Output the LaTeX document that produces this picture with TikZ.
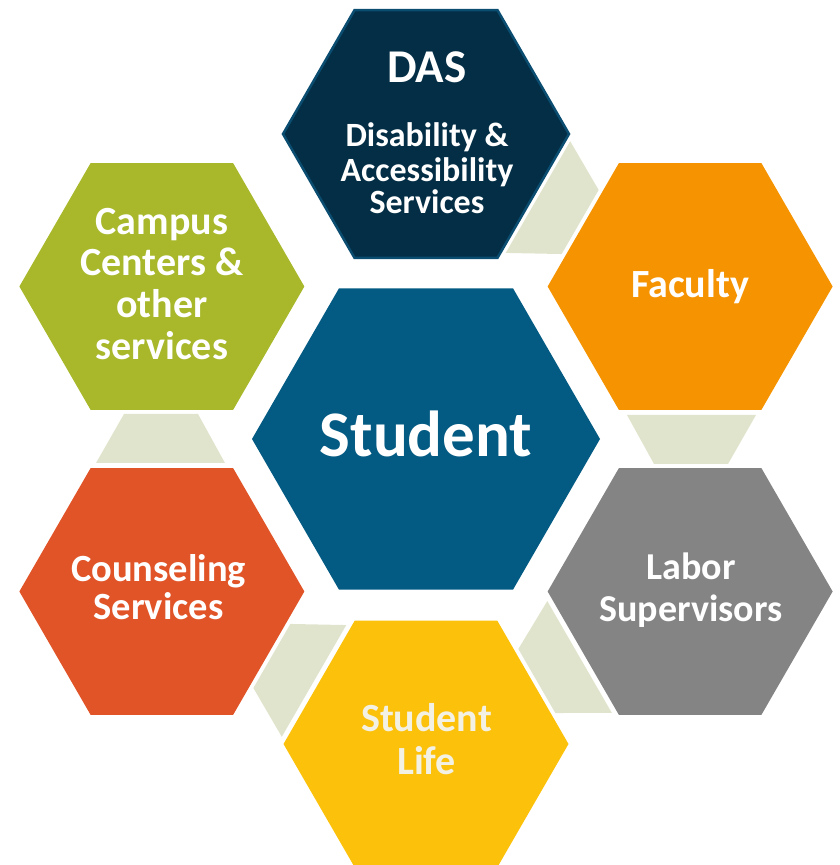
\documentclass[tikz,border=0pt]{standalone}
\usepackage{fontspec}
\setmainfont{Carlito}
\definecolor{dasfill}{HTML}{032E45}
\definecolor{dasline}{HTML}{0B4D70}
\definecolor{studfill}{HTML}{035A82}
\definecolor{facfill}{HTML}{F59300}
\definecolor{labfill}{HTML}{848484}
\definecolor{lifefill}{HTML}{FCC10A}
\definecolor{counfill}{HTML}{E05428}
\definecolor{campfill}{HTML}{A8B82A}
\definecolor{linkfill}{HTML}{E0E4CD}
\definecolor{lifetext}{HTML}{F3F0E4}
\begin{document}
\begin{tikzpicture}[x=1pt,y=1pt,
  lbl/.style={anchor=base, inner sep=0pt, outer sep=0pt, text=white,
    font=\bfseries\fontsize{#1}{#1}\selectfont},
  link/.style={fill=linkfill, draw=none}]
\useasboundingbox (0,0) rectangle (840,865);
\coordinate (c) at (426,426);
\path (c) ++(90:305) coordinate (das);
\path (c) ++(30:305) coordinate (fac);
\path (c) ++(-30:305) coordinate (lab);
\path (c) ++(-90:305) coordinate (life);
\path (c) ++(-150:305) coordinate (coun);
\path (c) ++(150:305) coordinate (camp);

% connectors
\fill[link, shift={(c)}, rotate=60]  (330,24) -- (302,-25) -- (228,-25) -- (201,24) -- cycle;
\fill[link, shift={(c)}, rotate=0]   (330,24) -- (302,-25) -- (228,-25) -- (201,24) -- cycle;
\fill[link, shift={(c)}, rotate=-60] (330,24) -- (302,-25) -- (228,-25) -- (201,24) -- cycle;
\fill[link, shift={(c)}, rotate=-120](330,24) -- (302,-25) -- (228,-25) -- (201,24) -- cycle;
\fill[link, shift={(c)}, rotate=180] (330,24) -- (302,-25) -- (228,-25) -- (201,24) -- cycle;

% hexagons
\fill[studfill, shift={(c)}] (0:174) -- (60:174) -- (120:174) -- (180:174) -- (240:174) -- (300:174) -- cycle;
\filldraw[fill=dasfill, draw=dasline, line width=2.5pt, line join=miter, shift={(das)}] (0:143) -- (60:143) -- (120:143) -- (180:143) -- (240:143) -- (300:143) -- cycle;
\fill[facfill, shift={(fac)}] (0:142.5) -- (60:142.5) -- (120:142.5) -- (180:142.5) -- (240:142.5) -- (300:142.5) -- cycle;
\fill[labfill, shift={(lab)}] (0:142.5) -- (60:142.5) -- (120:142.5) -- (180:142.5) -- (240:142.5) -- (300:142.5) -- cycle;
\fill[lifefill, shift={(life)}] (0:142.5) -- (60:142.5) -- (120:142.5) -- (180:142.5) -- (240:142.5) -- (300:142.5) -- cycle;
\fill[counfill, shift={(coun)}] (0:142.5) -- (60:142.5) -- (120:142.5) -- (180:142.5) -- (240:142.5) -- (300:142.5) -- cycle;
\fill[campfill, shift={(camp)}] (0:142.5) -- (60:142.5) -- (120:142.5) -- (180:142.5) -- (240:142.5) -- (300:142.5) -- cycle;

% labels
\node[lbl=47] (dasA) at (427,782) {DAS};
\node[lbl=34] (dasB) at (427,718) {Disability \&};
\node[lbl=34] (dasC) at (427,683) {Accessibility};
\node[lbl=34] (dasD) at (427,651) {Services};
\node[lbl=65] (stud) at (426,408) {Student};
\node[lbl=40] (facA) at (690,567) {Faculty};
\node[lbl=38] (labA) at (691,285) {Labor};
\node[lbl=38] (labB) at (691,243) {Supervisors};
\node[lbl=40, text=lifetext] (lifeA) at (426.5,133) {Student};
\node[lbl=40, text=lifetext] (lifeB) at (426.5,90) {Life};
\node[lbl=38.5] (counA) at (158.5,283) {Counseling};
\node[lbl=38.5] (counB) at (158.5,245) {Services};
\node[lbl=40] (campA) at (162,630) {Campus};
\node[lbl=40] (campB) at (162,589) {Centers \&};
\node[lbl=40] (campC) at (162,547) {other};
\node[lbl=40] (campD) at (162,505) {services};
\end{tikzpicture}
\end{document}
